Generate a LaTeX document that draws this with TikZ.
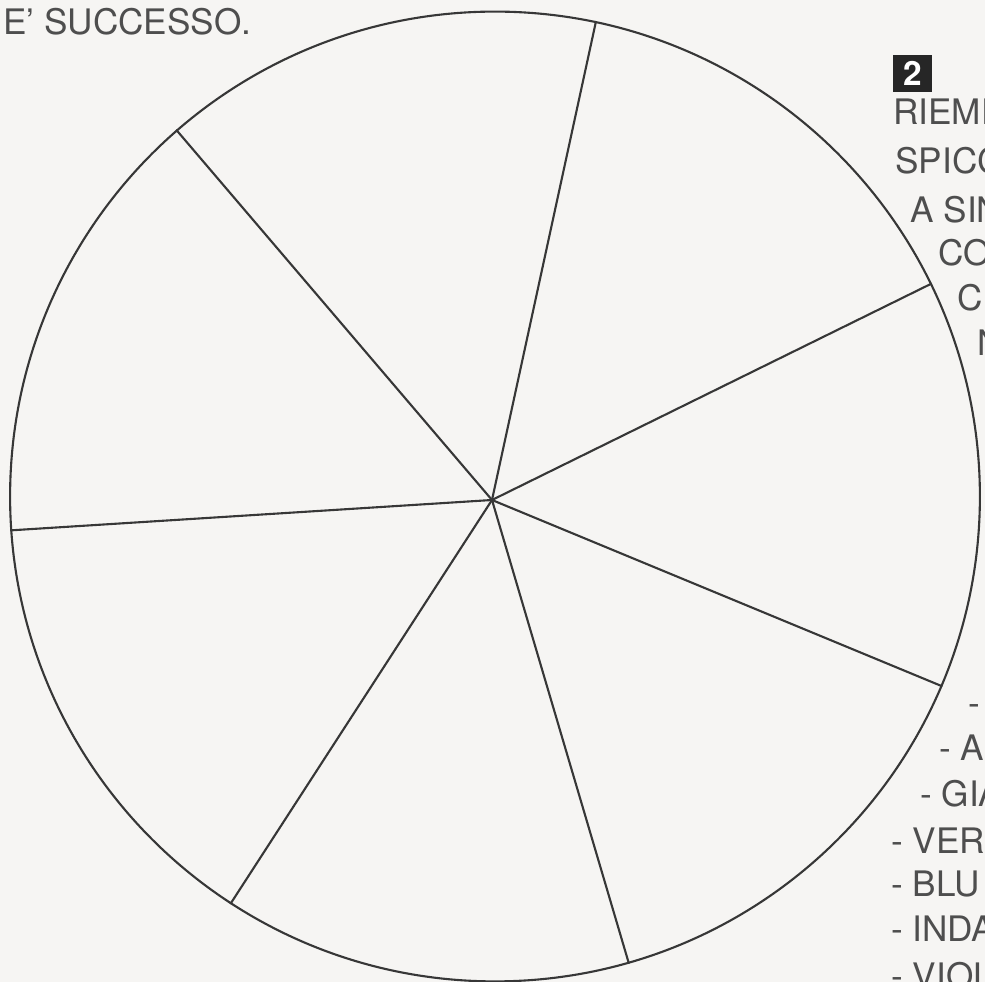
\documentclass[tikz,border=0pt]{standalone}
\usepackage{fontspec}
\setmainfont{TeX Gyre Heros}
\usetikzlibrary{positioning}
\definecolor{paper}{RGB}{246, 245, 243}
\definecolor{ink}{RGB}{78, 78, 78}
\definecolor{pen}{RGB}{55, 55, 55}

\begin{document}
\begin{tikzpicture} [
      x=0.02cm, y=-0.02cm,
      font=\fontsize{20}{24}\selectfont,
      wheelring/.style={circle, draw=pen, line width=1.2pt, minimum size=19.4cm, inner sep=0pt},
      spoke/.style={draw=pen, line width=1.2pt},
      txt/.style={anchor=base west, inner sep=0pt, text=ink},
      badge/.style={rectangle, fill=black!85, text=white, font=\fontsize{19}{20}\selectfont\bfseries, minimum width=0.78cm, minimum height=0.74cm, inner sep=0pt}
  ]
  \clip (0,0) rectangle (985,982);
  \fill[paper] (0,0) rectangle (985,982);

  \node[wheelring] (wheel) at (495,496.5) {};
  \coordinate (hub) at (492,500);
  \foreach \a in {78.3, 26.1, -23.3, -74.4, 237.3, 184.3, 131.4}
    \draw[spoke] (hub) -- (wheel.\a);

  \node[txt] (title) at (3,35) {E' SUCCESSO.};

  \node[badge] (stepno) at (912.5,73.5) {2};
  \node[txt] (l1) at (893,125) {RIEMP};
  \node[txt] (l2) at (895,174) {SPICC};
  \node[txt] (l3) at (910,223) {A SIN};
  \node[txt] (l4) at (938,266) {CO};
  \node[txt] (l5) at (957,311) {CI};
  \node[txt] (l6) at (977,356) {N};

  \node[txt] (c1) at (968,716) {-};
  \node[txt] (c2) at (939,761) {- AR};
  \node[txt] (c3) at (920,807) {- GIA};
  \node[txt] (c4) at (891,854) {- VERD};
  \node[txt] (c5) at (891,897) {- BLU};
  \node[txt] (c6) at (891,942) {- INDA};
  \node[txt] (c7) at (891,989) {- VIOL};
  \end{tikzpicture}
\end{document}
